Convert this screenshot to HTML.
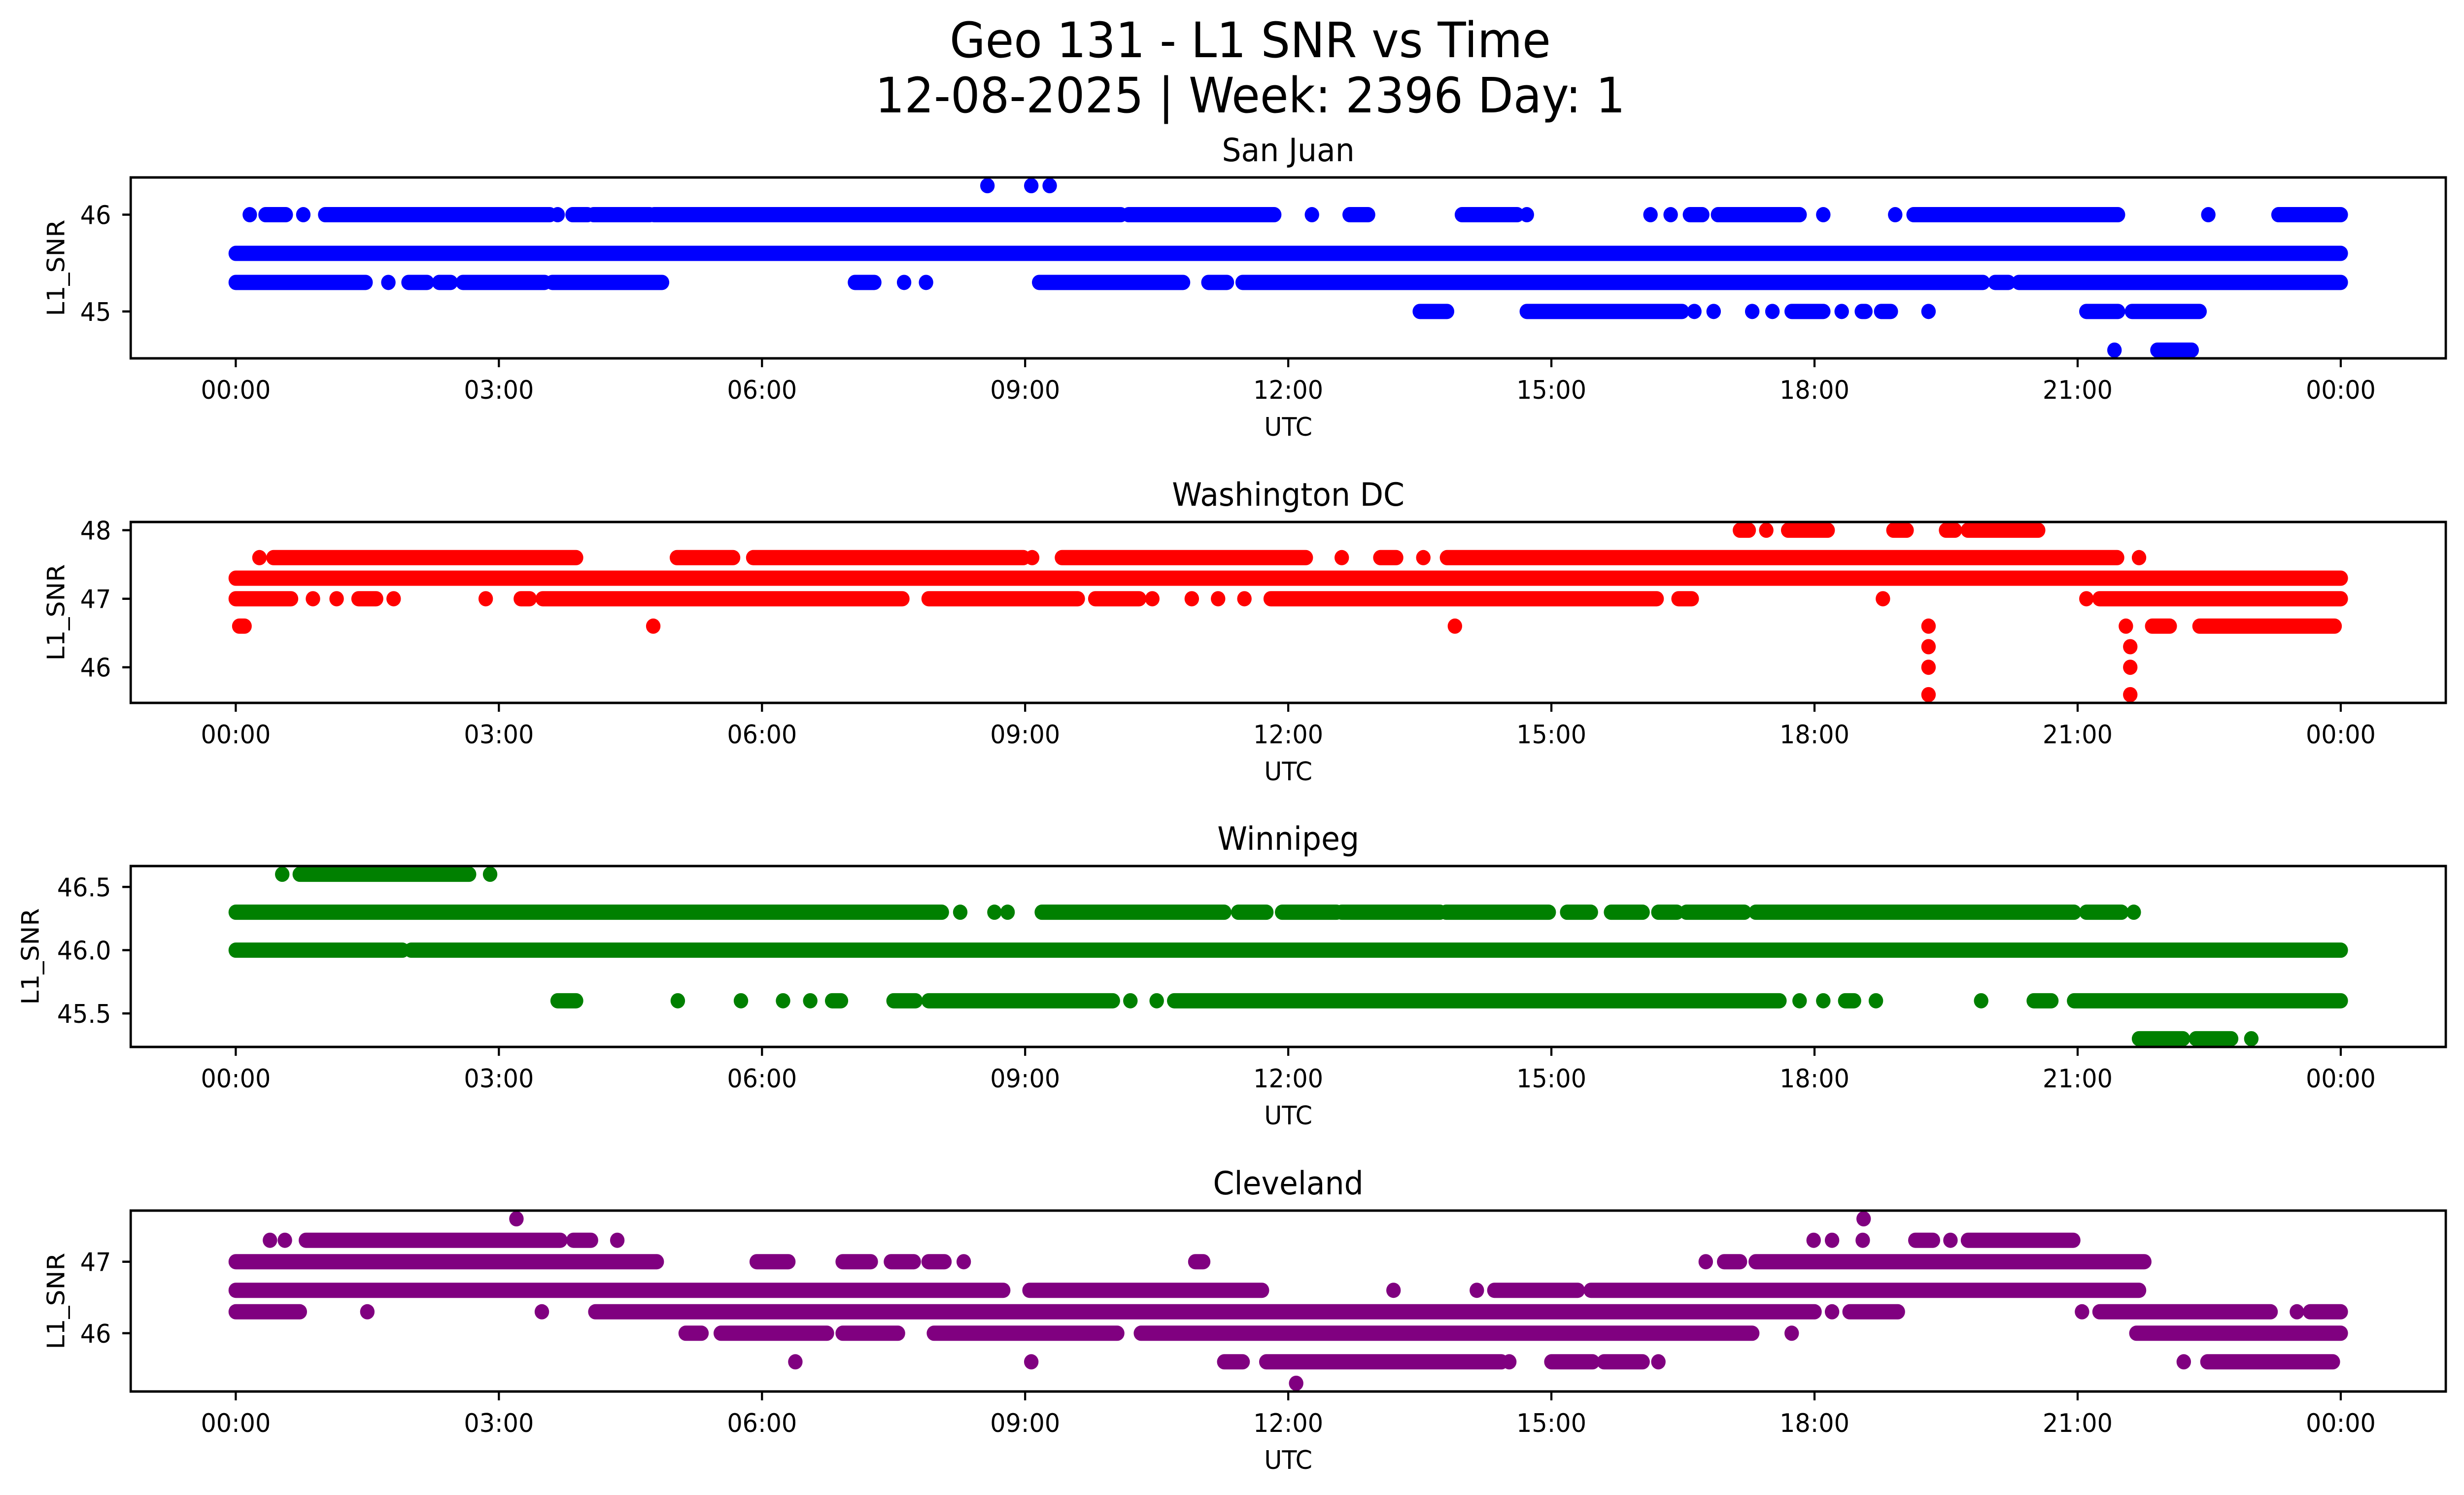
<!DOCTYPE html>
<html><head><meta charset="utf-8">
<title>Geo 131 - L1 SNR vs Time</title>
<style>
html,body{margin:0;padding:0;background:#fff;width:100%;height:100%;overflow:hidden;}
svg{display:block;position:fixed;left:0;top:0;width:100vw;height:100vh;font-family:"DejaVu Sans","Liberation Sans",sans-serif;}
</style></head>
<body>
<svg id="fig" xmlns="http://www.w3.org/2000/svg" viewBox="0 0 5278 3033" preserveAspectRatio="none">
<rect x="0" y="0" width="5278" height="3033" fill="#fff"/>
<text x="2678" y="116" font-size="99" text-anchor="middle">Geo 131 - L1 SNR vs Time</text>
<text x="2678" y="228" font-size="99" text-anchor="middle">12-08-2025 | Week: 2396 Day: 1</text>
</svg>
<script>
// x-axis ticks (hours) and labels
const xTickHours = [0,3,6,9,12,15,18,21,24];
const xTickLabels = ["00:00","03:00","06:00","09:00","12:00","15:00","18:00","21:00","00:00"];

// Runs of consecutive samples: [L1_SNR value, start hour, end hour]
const sanJuanRuns = [
 [45.6,0,24],
 [46.0,0.16,0.16],[46.0,0.34,0.57],[46.0,0.77,0.77],[46.0,1.02,3.58],[46.0,3.67,3.67],[46.0,3.84,4.01],[46.0,4.08,4.72],[46.0,4.77,10.09],[46.0,10.18,11.84],[46.0,12.27,12.27],[46.0,12.70,12.91],[46.0,13.98,14.61],[46.0,14.72,14.72],[46.0,16.13,16.13],[46.0,16.36,16.36],[46.0,16.58,16.72],[46.0,16.90,17.83],[46.0,18.10,18.10],[46.0,18.92,18.92],[46.0,19.13,21.46],[46.0,22.49,22.49],[46.0,23.29,24],
 [46.3,8.57,8.57],[46.3,9.07,9.07],[46.3,9.28,9.28],
 [45.3,0,1.48],[45.3,1.74,1.74],[45.3,1.97,2.18],[45.3,2.32,2.45],[45.3,2.59,3.52],[45.3,3.61,4.86],[45.3,7.06,7.28],[45.3,7.62,7.62],[45.3,7.87,7.87],[45.3,9.16,10.80],[45.3,11.09,11.30],[45.3,11.48,19.92],[45.3,20.06,20.21],[45.3,20.33,24],
 [45.0,13.50,13.81],[45.0,14.72,16.49],[45.0,16.63,16.63],[45.0,16.85,16.85],[45.0,17.29,17.29],[45.0,17.52,17.52],[45.0,17.74,18.10],[45.0,18.31,18.31],[45.0,18.54,18.58],[45.0,18.76,18.87],[45.0,19.30,19.30],[45.0,21.10,21.46],[45.0,21.62,22.39],
 [44.6,21.42,21.42],[44.6,21.91,22.30]
];
const washingtonRuns = [
 [47.3,0,24],
 [47.0,0,0.63],[47.0,0.88,0.88],[47.0,1.15,1.15],[47.0,1.4,1.6],[47.0,1.8,1.8],[47.0,2.85,2.85],[47.0,3.25,3.35],[47.0,3.5,7.6],[47.0,7.9,9.6],[47.0,9.8,10.3],[47.0,10.45,10.45],[47.0,10.9,10.9],[47.0,11.2,11.2],[47.0,11.5,11.5],[47.0,11.8,16.2],[47.0,16.45,16.6],[47.0,18.78,18.78],[47.0,21.1,21.1],[47.0,21.25,24],
 [47.6,0.27,0.27],[47.6,0.43,3.88],[47.6,5.03,5.67],[47.6,5.9,8.98],[47.6,9.08,9.08],[47.6,9.42,12.2],[47.6,12.61,12.61],[47.6,13.05,13.23],[47.6,13.54,13.54],[47.6,13.81,21.45],[47.6,21.7,21.7],
 [48.0,17.15,17.25],[48.0,17.45,17.45],[48.0,17.7,18.15],[48.0,18.9,19.05],[48.0,19.5,19.6],[48.0,19.75,20.55],
 [46.6,0.04,0.1],[46.6,4.76,4.76],[46.6,13.9,13.9],[46.6,19.3,19.3],[46.6,21.55,21.55],[46.6,21.85,22.05],[46.6,22.39,23.93],
 [46.3,19.3,19.3],[46.3,21.6,21.6],
 [46.0,19.3,19.3],[46.0,21.6,21.6],
 [45.6,19.3,19.3],[45.6,21.6,21.6]
];
const winnipegRuns = [
 [46.0,0,1.9],[46.0,2.0,24],
 [46.3,0,8.05],[46.3,8.26,8.26],[46.3,8.65,8.65],[46.3,8.8,8.8],[46.3,9.19,11.27],[46.3,11.43,11.75],[46.3,11.93,12.55],[46.3,12.61,13.73],[46.3,13.8,14.97],[46.3,15.18,15.45],[46.3,15.68,16.04],[46.3,16.22,16.43],[46.3,16.54,17.2],[46.3,17.33,20.96],[46.3,21.1,21.5],[46.3,21.64,21.64],
 [46.6,0.53,0.53],[46.6,0.73,2.66],[46.6,2.9,2.9],
 [45.6,3.67,3.88],[45.6,5.04,5.04],[45.6,5.76,5.76],[45.6,6.24,6.24],[45.6,6.55,6.55],[45.6,6.8,6.9],[45.6,7.5,7.75],[45.6,7.9,10.0],[45.6,10.2,10.2],[45.6,10.5,10.5],[45.6,10.7,17.6],[45.6,17.83,17.83],[45.6,18.1,18.1],[45.6,18.35,18.45],[45.6,18.7,18.7],[45.6,19.9,19.9],[45.6,20.5,20.7],[45.6,20.96,24],
 [45.3,21.7,22.2],[45.3,22.35,22.75],[45.3,22.98,22.98]
];
const clevelandRuns = [
 [46.6,0,8.75],[46.6,9.05,11.7],[46.6,13.2,13.2],[46.6,14.15,14.15],[46.6,14.35,15.3],[46.6,15.45,21.7],
 [46.3,0,0.73],[46.3,1.5,1.5],[46.3,3.49,3.49],[46.3,4.1,18.0],[46.3,18.2,18.2],[46.3,18.4,18.95],[46.3,21.05,21.05],[46.3,21.25,23.2],[46.3,23.5,23.5],[46.3,23.65,24],
 [47.0,0,4.8],[47.0,5.94,6.3],[47.0,6.92,7.24],[47.0,7.47,7.73],[47.0,7.9,8.08],[47.0,8.3,8.3],[47.0,10.94,11.03],[47.0,16.76,16.76],[47.0,16.97,17.15],[47.0,17.33,21.76],
 [47.3,0.39,0.39],[47.3,0.56,0.56],[47.3,0.8,3.7],[47.3,3.85,4.05],[47.3,4.35,4.35],[47.3,17.99,17.99],[47.3,18.2,18.2],[47.3,18.55,18.55],[47.3,19.15,19.35],[47.3,19.55,19.55],[47.3,19.75,20.95],
 [47.6,3.2,3.2],[47.6,18.56,18.56],
 [46.0,5.13,5.31],[46.0,5.53,6.74],[46.0,6.92,7.55],[46.0,7.96,10.05],[46.0,10.32,17.29],[46.0,17.74,17.74],[46.0,21.67,24],
 [45.6,6.38,6.38],[45.6,9.07,9.07],[45.6,11.27,11.48],[45.6,11.75,14.43],[45.6,14.52,14.52],[45.6,15.0,15.47],[45.6,15.6,16.04],[45.6,16.22,16.22],[45.6,22.21,22.21],[45.6,22.48,23.91],
 [45.3,12.09,12.09]
];
const sanJuanYTicks = [45,46];
const washingtonYTicks = [46,47,48];
const winnipegYTicks = [45.5,46.0,46.5];
const clevelandYTicks = [46,47];

const NS = "http://www.w3.org/2000/svg";
const svg = document.getElementById("fig");
const AX_L = 280, AX_R = 5239, AX_H = 367;
const X0 = 505, X1 = 5014; // 00:00 .. 24:00
function xScale(h){ return X0 + (X1 - X0) * h / 24; }
function mk(tag, attrs, parent){
  const e = document.createElementNS(NS, tag);
  for (const k in attrs) e.setAttribute(k, attrs[k]);
  (parent || svg).appendChild(e);
  return e;
}

function panel(name, title, top, runs, color, yTicks, decimals, ylabelX){
  const g = mk("g", {});
  
  
  let mn = Infinity, mx = -Infinity;
  runs.forEach(r => { mn = Math.min(mn, r[0]); mx = Math.max(mx, r[0]); });
  const pad = (mx - mn) * 0.05;
  const y0 = mn - pad, y1 = mx + pad;
  const bottom = top + AX_H;
  const yScale = v => bottom - (v - y0) / (y1 - y0) * AX_H;

  const t = mk("text", {x: (AX_L + AX_R) / 2, y: top - 33, "font-size": 65, "text-anchor": "middle"}, g);
  t.textContent = title;
  
  

  const marks = mk("g", {fill: color, stroke: color}, g);
  
  
  runs.forEach(r => {
    const y = yScale(r[0]);
    let el;
    if (r[2] - r[1] < 0.001) {
      el = mk("circle", {cx: xScale(r[1]), cy: y, r: 15.5, stroke: "none"}, marks);
    } else {
      el = mk("line", {x1: xScale(r[1]), x2: xScale(r[2]), y1: y, y2: y, "stroke-width": 31, "stroke-linecap": "round"}, marks);
    }
    
    
  });

  const fr = mk("rect", {x: AX_L, y: top, width: AX_R - AX_L, height: AX_H, fill: "none", stroke: "#000", "stroke-width": 5}, g);
  
  

  xTickHours.forEach((h, i) => {
    const x = xScale(h);
    const tk = mk("line", {x1: x, x2: x, y1: bottom, y2: bottom + 18, stroke: "#000", "stroke-width": 4.5}, g);
    
    
    const lb = mk("text", {x: x, y: bottom + 82, "font-size": 52, "text-anchor": "middle"}, g);
    lb.textContent = xTickLabels[i];
    
    
  });
  const xl = mk("text", {x: (AX_L + AX_R) / 2, y: bottom + 157, "font-size": 52, "text-anchor": "middle"}, g);
  xl.textContent = "UTC";
  
  

  yTicks.forEach(v => {
    const y = yScale(v);
    const tk = mk("line", {x1: AX_L - 18, x2: AX_L, y1: y, y2: y, stroke: "#000", "stroke-width": 4.5}, g);
    
    
    const lb = mk("text", {x: AX_L - 42, y: y + 19, "font-size": 52, "text-anchor": "end"}, g);
    lb.textContent = v.toFixed(decimals);
    
    
  });
  const yl = mk("text", {x: 0, y: 0, "font-size": 52, "text-anchor": "middle", transform: "translate(" + ylabelX + "," + (top + AX_H / 2) + ") rotate(-90)"}, g);
  yl.textContent = "L1_SNR";
  
  
}

panel("san-juan", "San Juan", 360, sanJuanRuns, "#0000ff", sanJuanYTicks, 0, 138);
panel("washington-dc", "Washington DC", 1059, washingtonRuns, "#ff0000", washingtonYTicks, 0, 138);
panel("winnipeg", "Winnipeg", 1757, winnipegRuns, "#008000", winnipegYTicks, 1, 83);
panel("cleveland", "Cleveland", 2456, clevelandRuns, "#800080", clevelandYTicks, 0, 138);
</script>
</body></html>
